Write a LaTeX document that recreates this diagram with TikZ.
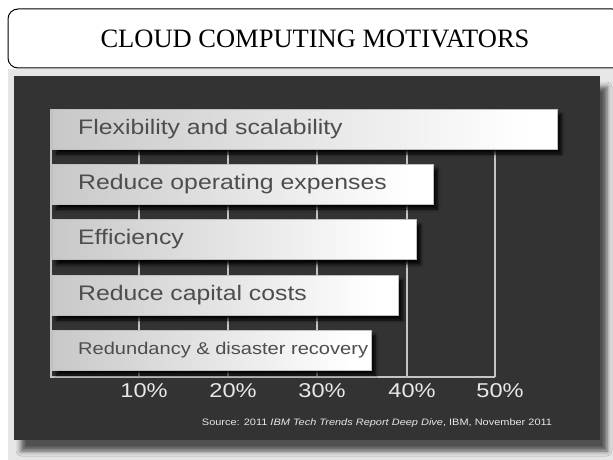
\documentclass[tikz,border=0pt]{standalone}
\usepackage{fontspec}
\setmainfont{Liberation Serif}
\newfontfamily\chartfont[FakeStretch=1.18]{Liberation Sans}
\usetikzlibrary{shadows.blur}
\definecolor{panelgray}{HTML}{333333}
\definecolor{backgray}{HTML}{E6E6E6}
\definecolor{gridgray}{HTML}{C4C4C4}
\definecolor{labelgray}{HTML}{4D4D4D}
\definecolor{tickwhite}{HTML}{E8E8E8}
\pgfdeclarehorizontalshading{barshade}{100bp}{color(0bp)=(black!33); color(72bp)=(white); color(100bp)=(white)}
\begin{document}
\begin{tikzpicture}[x=1pt,y=-1pt,
        titledecorate/.style={shape=rectangle,rounded corners=10pt,draw,line width=1pt,
          minimum width=614pt,minimum height=59pt,font=\fontsize{26.5}{30}\selectfont},%
        paneldecorate/.style={shape=rectangle,fill=panelgray,inner sep=0pt,
          blur shadow={shadow xshift=7pt,shadow yshift=-11pt,shadow opacity=65,shadow blur radius=5pt}},%
        bardecorate/.style={shape=rectangle,anchor=west,inner sep=0pt,minimum height=40pt,
          draw=black!25,line width=0.6pt,shading=barshade,
          blur shadow={shadow xshift=4pt,shadow yshift=-5pt,shadow opacity=90,shadow blur radius=3pt}},%
        labeldecorate/.style={anchor=west,inner sep=0pt,xshift=26pt,text=labelgray},%
        gridecorate/.style={-,draw=gridgray,line width=1.3pt},%
        tickdecorate/.style={text=tickwhite,inner sep=0pt,font=\chartfont\fontsize{20}{24}\selectfont}]
        \useasboundingbox[fill=white] (0,0) rectangle (613,460);
        %% title and backdrop
        \node (title) at (315,38.5) [titledecorate] {CLOUD COMPUTING MOTIVATORS};
        \fill[backgray] (8,69) rectangle (613,460);
        \node (panel) at (307,258) [paneldecorate,minimum width=586pt,minimum height=364pt] {};

        %% grid lines and percentages
        \foreach \pct/\x in {10/139, 20/228, 30/317, 40/407, 50/495}
        {
          \draw[gridecorate] (\x,109) -- (\x,377);
          \node (tick\pct) at (\x+5,391) [tickdecorate] {\pct\%};
        }
        \draw[gridecorate] (51,109) -- (51,377) -- (495,377);

        %% bars
        \foreach \name/\y/\xend/\size/\text in {flex/129/557/21/Flexibility and scalability,
          opex/184/433/21/Reduce operating expenses, effic/239.5/416/21/Efficiency,
          capex/295/398/21/Reduce capital costs, redund/350/371/17/Redundancy \& disaster recovery}
        {
          \node (\name) at (52,\y) [bardecorate,minimum width={(\xend-52)*1pt}] {};
          \node [labeldecorate,font=\chartfont\fontsize{\size}{\size}\selectfont] at (\name.west) {\text};
        }

        \node (source) at (377,423) [text=tickwhite,font=\chartfont\fontsize{9.3}{11}\selectfont]
          {Source: 2011 \textit{IBM Tech Trends Report Deep Dive}, IBM, November 2011};
      \end{tikzpicture}
\end{document}
